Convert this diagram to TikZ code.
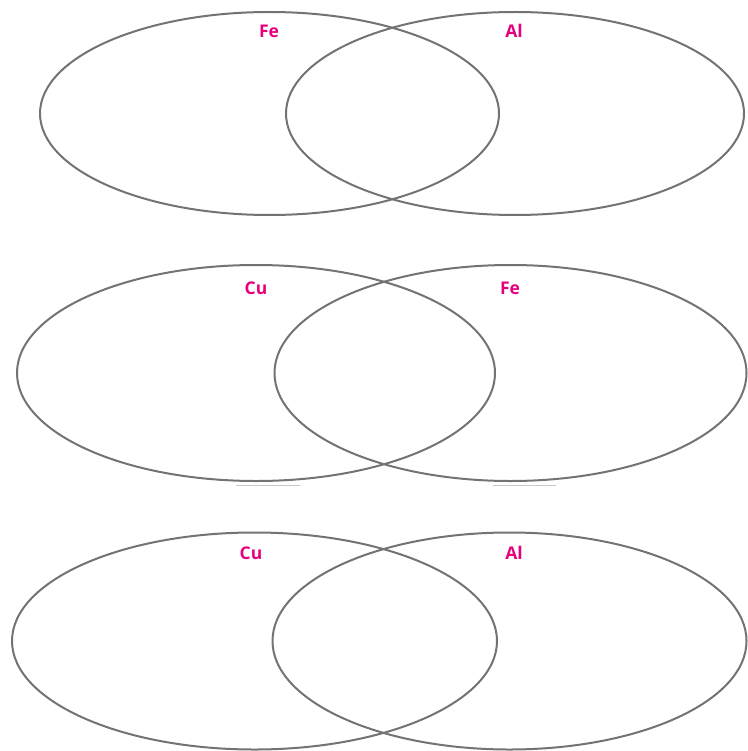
\documentclass[tikz,border=0pt]{standalone}
\usepackage{fontspec}
\setmainfont{Open Sans}
\definecolor{lbl}{RGB}{230,0,126}
\definecolor{ring}{RGB}{115,115,115}
\definecolor{faint}{RGB}{200,200,200}
\begin{document}
\begin{tikzpicture}[x=1pt,y=-1pt,
  ring/.style={draw=ring,line width=2pt},
  lab/.style={text=lbl,font=\bfseries\fontsize{17.5}{17.5}\selectfont,inner sep=0pt}]
\useasboundingbox (0,0) rectangle (747,751);
% row 1
\draw[ring] (269.5,113.5) ellipse [x radius=229.5, y radius=101.5];
\draw[ring] (515,113.5) ellipse [x radius=229, y radius=101.5];
\node[lab] (fe1) at (269,31) {Fe};
\node[lab] (al1) at (514,31) {Al};
% row 2
\draw[ring] (256,373) ellipse [x radius=239, y radius=108];
\draw[ring] (510.5,373) ellipse [x radius=236, y radius=108];
\node[lab] (cu2) at (256,288) {Cu};
\node[lab] (fe2) at (510,288) {Fe};
\draw[faint,line width=1pt] (236,485) -- (300,485);
\draw[faint,line width=1pt] (493,485) -- (556,485);
% row 3
\draw[ring] (254.5,641) ellipse [x radius=242.5, y radius=108.5];
\draw[ring] (509.5,641) ellipse [x radius=237, y radius=108.5];
\node[lab] (cu3) at (251,553) {Cu};
\node[lab] (al3) at (514,553) {Al};
\end{tikzpicture}
\end{document}
